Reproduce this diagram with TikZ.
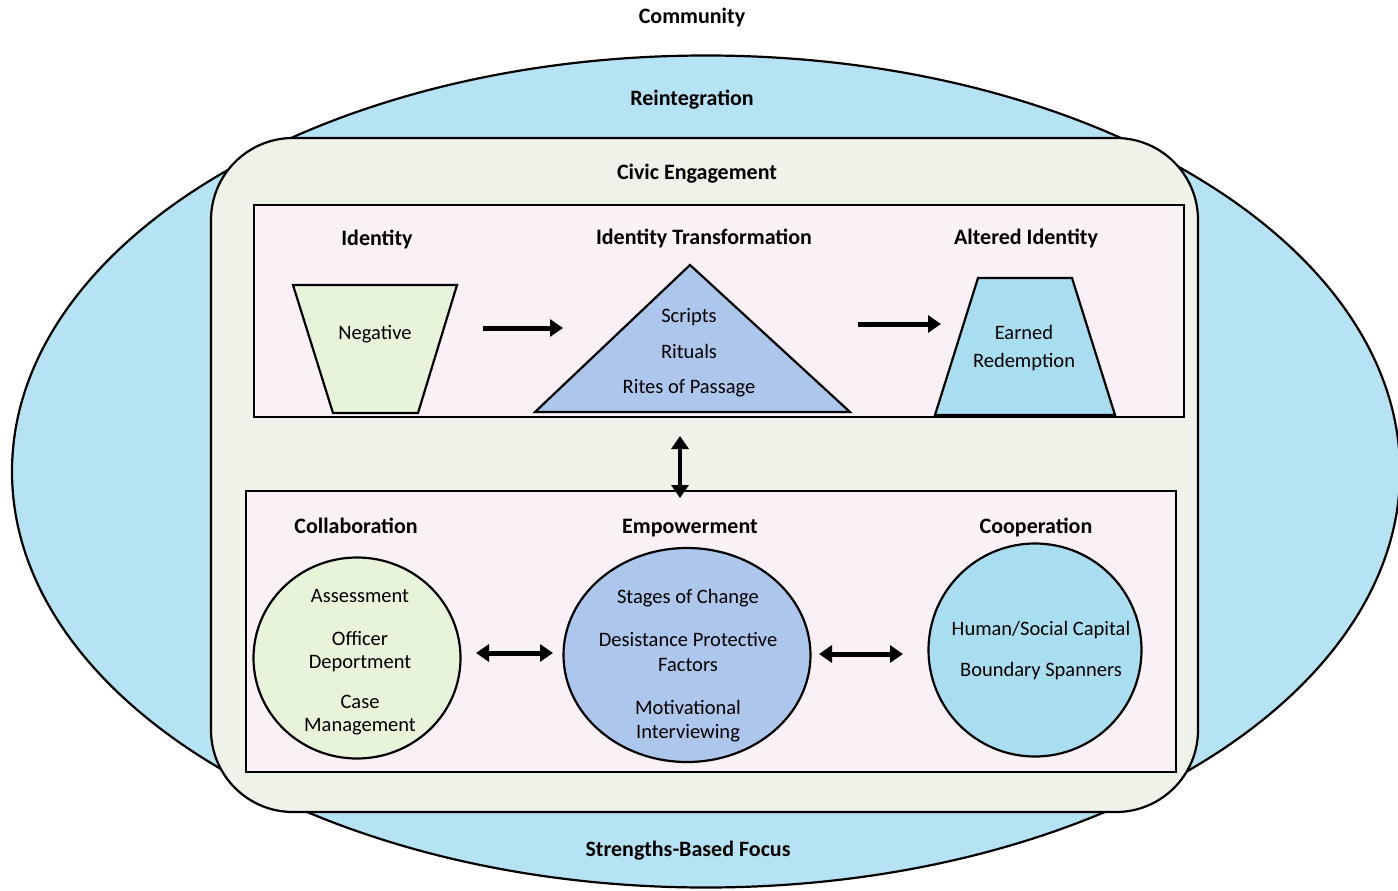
\documentclass[tikz,border=0pt]{standalone}
\usepackage{fontspec}
\setmainfont{Carlito}
\usetikzlibrary{arrows.meta,shapes.geometric}
\definecolor{ellfill}{HTML}{B6E3F4}
\definecolor{civfill}{HTML}{EFF2E8}
\definecolor{boxfill}{HTML}{F9F1F5}
\definecolor{greenf}{HTML}{E7F4DA}
\definecolor{bluef}{HTML}{ADC6EC}
\definecolor{cyanf}{HTML}{A9DEF1}
\tikzset{
  txt/.style={font=\fontsize{20.5}{23}\selectfont, inner sep=0pt, anchor=base},
  hd/.style={font=\bfseries\fontsize{22}{24}\selectfont, inner sep=0pt, anchor=base},
  outline/.style={draw=black, line width=2.2pt, line join=miter},
  bigarrow/.style={line width=5pt, -{Triangle[length=13pt,width=17pt]}},
  dblarrow/.style={line width=5pt, {Triangle[length=13pt,width=17pt]}-{Triangle[length=13pt,width=17pt]}},
  oval/.style={ellipse, outline, inner sep=0pt}
}
\begin{document}
\begin{tikzpicture}[x=1pt,y=-1pt]
\useasboundingbox (0,0) rectangle (1398,891);
\begin{scope}
\clip (0,0) rectangle (1398,891);
\draw[outline, fill=ellfill] (706,471.5) ellipse [x radius=694, y radius=416];
\end{scope}
\draw[outline, fill=civfill, rounded corners=82pt] (211,138) rectangle (1198,812);
\node[draw=black, line width=2.6pt, fill=boxfill, minimum width=930pt, minimum height=212pt, inner sep=0pt] (topbox) at (719,311) {};
\node[draw=black, line width=2.6pt, fill=boxfill, minimum width=930pt, minimum height=281pt, inner sep=0pt] (botbox) at (711,631.5) {};
% shapes
\coordinate (n1) at (293,285);
\coordinate (n2) at (457,285);
\coordinate (n3) at (418,413);
\coordinate (n4) at (333,413);
\draw[outline, fill=greenf] (n1) -- (n2) -- (n3) -- (n4) -- cycle;
\coordinate (tA) at (535,412);
\coordinate (tB) at (850,412);
\coordinate (tC) at (690,265);
\draw[outline, fill=bluef] (tA) -- (tC) -- (tB) -- cycle;
\coordinate (r1) at (978,278);
\coordinate (r2) at (1072,278);
\coordinate (r3) at (1115,415);
\coordinate (r4) at (935,415);
\draw[outline, fill=cyanf] (r1) -- (r2) -- (r3) -- (r4) -- cycle;
\node[oval, fill=greenf, minimum width=207pt, minimum height=201pt] (collab) at (357,658) {};
\node[oval, fill=bluef, minimum width=247pt, minimum height=214pt] (empow) at (687,655) {};
\node[oval, fill=cyanf, minimum width=213pt, minimum height=213pt] (coop) at (1035,650) {};
% arrow coordinates
\coordinate (a1s) at (483,328);
\coordinate (a1e) at (563,328);
\coordinate (a2s) at (858,324);
\coordinate (a2e) at (941,324);
\coordinate (v1) at (680,436);
\coordinate (v2) at (680,498);
\coordinate (h1s) at (476,653);
\coordinate (h1e) at (553,653);
\coordinate (h2s) at (819,654);
\coordinate (h2e) at (903,654);
\draw[bigarrow] (a1s) -- (a1e);
\draw[bigarrow] (a2s) -- (a2e);
\draw[dblarrow, line width=4pt] (v1) -- (v2);
\draw[dblarrow] (h1s) -- (h1e);
\draw[dblarrow] (h2s) -- (h2e);
% labels
\node[hd] (lcomm) at (692,24) {Community};
\node[hd] (lreint) at (692,105) {Reintegration};
\node[hd] (lcivic) at (697,179) {Civic Engagement};
\node[hd] (lid) at (377,245) {Identity};
\node[hd] (lidt) at (704,244) {Identity Transformation};
\node[hd] (lalt) at (1026,244) {Altered Identity};
\node[txt] (tneg) at (375,339) {Negative};
\node[txt] (tscr) at (689,322) {Scripts};
\node[txt] (trit) at (689,358) {Rituals};
\node[txt] (trop) at (689,393) {Rites of Passage};
\node[txt] (tearn) at (1024,339) {Earned};
\node[txt] (tred) at (1024,367) {Redemption};
\node[hd] (lcol) at (356,533) {Collaboration};
\node[hd] (lemp) at (690,533) {Empowerment};
\node[hd] (lcoo) at (1036,533) {Cooperation};
\node[txt] (tass) at (360,602) {Assessment};
\node[txt] (toff) at (360,645) {Officer};
\node[txt] (tdep) at (360,668) {Deportment};
\node[txt] (tcase) at (360,708) {Case};
\node[txt] (tman) at (360,731) {Management};
\node[txt] (tsoc) at (688,603) {Stages of Change};
\node[txt] (tdes) at (688,646) {Desistance Protective};
\node[txt] (tfac) at (688,671) {Factors};
\node[txt] (tmot) at (688,714) {Motivational};
\node[txt] (tint) at (688,738) {Interviewing};
\node[txt] (thum) at (1041,635) {Human/Social Capital};
\node[txt] (tbou) at (1041,676) {Boundary Spanners};
\node[hd] (lstr) at (688,856) {Strengths-Based Focus};
\end{tikzpicture}
\end{document}
